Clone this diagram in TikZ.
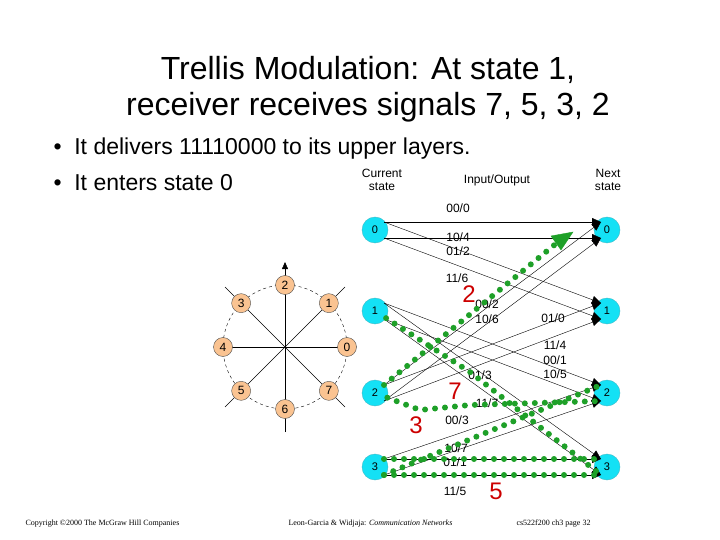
\documentclass[tikz,border=0pt]{standalone}
\usepackage{fontspec}
\setmainfont{Liberation Sans}
\newfontfamily\seriff{Liberation Serif}
\usetikzlibrary{arrows.meta,calc}
\definecolor{cy}{RGB}{20,225,245}
\definecolor{pe}{RGB}{250,195,145}
\definecolor{gr}{RGB}{30,160,40}
\begin{document}
\begin{tikzpicture}[x=1pt,y=-1pt,
 st/.style={circle,fill=cy,draw=cy!60!gray,minimum size=26pt,inner sep=0pt,font=\fontsize{11}{11}\selectfont},
 ps/.style={circle,fill=pe,draw=black!70,minimum size=19pt,inner sep=0pt,font=\fontsize{12}{12}\selectfont},
 tr/.style={-{Triangle[length=9pt,width=8pt]},thin},
 lb/.style={font=\fontsize{12}{12}\selectfont,inner sep=0pt},
 gp/.style={draw=gr,line width=6pt,dash pattern=on 0pt off 10pt,line cap=round},
 big/.style={text=red!80!black,font=\fontsize{24}{24}\selectfont,inner sep=0pt}]
\useasboundingbox (0,0) rectangle (720,540);
\node[align=center,font=\fontsize{32}{36}\selectfont] (title) at (368,89) {Trellis Modulation: At state 1,\\receiver receives signals 7, 5, 3, 2};
\node[anchor=west,font=\fontsize{23}{23}\selectfont] (b1) at (50,149) {\textbullet\ \ It delivers 11110000 to its upper layers.};
\node[anchor=west,font=\fontsize{23}{23}\selectfont] (b2) at (50,183) {\textbullet\ \ It enters state 0};
% constellation
\coordinate (cc) at (285,347);
\draw[dashed,thin] (cc) circle (62);
\draw[-{Triangle[length=7pt,width=6pt]}] (222,347) coordinate (xl) -- (357,347) coordinate (xr);
\draw[-{Triangle[length=7pt,width=6pt]}] (285,432) coordinate (yb) -- (285,262) coordinate (yt);
\draw[thin] (225,287) -- (345,407);
\draw[thin] (345,287) -- (225,407);
\foreach \k in {0,...,7}{\node[ps] (p\k) at ($(cc)+(\k*45:62 and -62)$) {\k};}
% trellis
\node[font=\fontsize{12}{13}\selectfont,align=center] (hc) at (382,180) {Current\\state};
\node[font=\fontsize{12}{12}\selectfont] (hi) at (497,180) {Input/Output};
\node[font=\fontsize{12}{13}\selectfont,align=center] (hn) at (608,180) {Next\\state};
\foreach \i/\y in {0/230,1/311,2/393,3/467}{
 \node[st] (L\i) at (375,\y) {\i};
 \node[st] (R\i) at (607,\y) {\i};}
\foreach \i in {0,...,3}{
 \coordinate (La\i) at ($(L\i)+(9,-8)$); \coordinate (Lb\i) at ($(L\i)+(9,8)$);
 \coordinate (Ra\i) at ($(R\i)+(-6,-8)$); \coordinate (Rb\i) at ($(R\i)+(-6,8)$);}
\draw[tr] (La0) -- (Ra0); \draw[tr] (Lb0) -- (Rb0);
\draw[tr] (La0) -- (Ra1); \draw[tr] (Lb0) -- (Rb1);
\draw[tr] (La1) -- (Ra2); \draw[tr] (Lb1) -- (Rb2);
\draw[tr] (La1) -- (Ra3); \draw[tr] (Lb1) -- (Rb3);
\draw[tr] (La2) -- (Ra0); \draw[tr] (Lb2) -- (Rb0);
\draw[tr] (La2) -- (Ra1); \draw[tr] (Lb2) -- (Rb1);
\draw[tr] (La3) -- (Ra2); \draw[tr] (Lb3) -- (Rb2);
\draw[tr] (La3) -- (Ra3); \draw[tr] (Lb3) -- (Rb3);
\foreach \a/\b/\x/\y in {00/0/458/208,10/4/458/237,01/2/458/251,11/6/457/278,00/2/487/304,10/6/487/319,01/0/553/318,11/4/555/345,00/1/555/360,10/5/555/374,01/3/480/375,11/7/487/403,00/3/457/420,10/7/456/448,01/1/455/462,11/5/455/491}
 {\node[lb] at (\x,\y) {\a/\b};}
% green paths
\draw[gp] (L1) -- (470,372) -- (Rb3);
\draw[gp] (La3) -- (Ra3);
\draw[gp] (Lb3) -- (Rb3);
\draw[gp] (Lb3) -- (Ra2);
\draw[gp] (L2) -- (420,410) -- (470,405) -- (Rb2);
\draw[gp] (La2) -- (558,242);
\draw[gr,fill=gr] (551,236) -- (573,232) -- (561,250) -- cycle;
\node[big] (n2) at (469,294) {2};
\node[big] (n7) at (455,391) {7};
\node[big] (n3) at (416,425) {3};
\node[big] (n5) at (496,491) {5};
% footer
\node[anchor=west,font=\seriff\fontsize{8}{8}\selectfont] (f1) at (22,524) {Copyright \textcopyright 2000 The McGraw Hill Companies};
\node[anchor=west,font=\seriff\fontsize{8}{8}\selectfont] (f2) at (285,524) {Leon-Garcia \& Widjaja: \textit{Communication Networks}};
\node[anchor=west,font=\seriff\fontsize{8}{8}\selectfont] (f3) at (513,524) {cs522f200 ch3 page 32};
\end{tikzpicture}
\end{document}
